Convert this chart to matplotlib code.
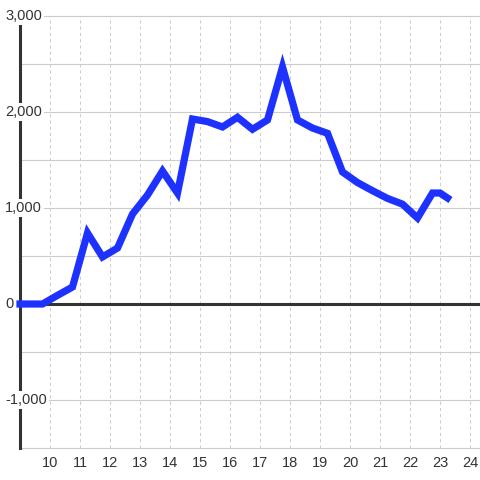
import matplotlib
matplotlib.use("Agg")
import matplotlib.pyplot as plt
import matplotlib.transforms as mtransforms

# values
x_vals = [9.0, 9.75, 10.25, 10.75, 11.25, 11.75, 12.25, 12.75, 13.25, 13.75,
          14.25, 14.75, 15.25, 15.75, 16.25, 16.75, 17.25, 17.75, 18.25, 18.75,
          19.25, 19.75, 20.25, 20.75, 21.25, 21.75, 22.25, 22.75, 23.0, 23.25]
y_vals = [0, 0, 90, 177, 740, 490, 583, 937, 1135, 1385,
          1156, 1927, 1900, 1844, 1945, 1820, 1917, 2469, 1917, 1833,
          1778, 1375, 1265, 1180, 1100, 1040, 896, 1156, 1156, 1104]
x_ticks = list(range(10, 25))
y_grid = list(range(-1500, 3001, 500))
y_labels = {-1000: "-1,000", 0: "0", 1000: "1,000", 2000: "2,000", 3000: "3,000"}

plt.rcParams['font.family'] = ['Liberation Sans', 'DejaVu Sans']

fig = plt.figure(figsize=(4.8, 4.8), dpi=100)
ax = fig.add_axes([20 / 480, 32 / 480, 460 / 480, 432 / 480])
ax.set_xlim(9, 9 + 460 / 30)
ax.set_ylim(-1500, 3000)

for side in ["top", "right", "bottom"]:
    ax.spines[side].set_visible(False)
ax.spines["left"].set_color("#333333")
ax.spines["left"].set_linewidth(2.2)

# grid
for v in y_grid:
    ax.axhline(v, color="#cccccc", lw=0.8, zorder=1, clip_on=False)
for t in x_ticks:
    ax.axvline(t, color="#cccccc", lw=0.75, ls=(0, (3, 3)), zorder=1)
ax.axhline(0, color="#333333", lw=2.2, zorder=2)

ax.plot(x_vals, y_vals, color="#1e32ff", lw=5.2, zorder=3,
        solid_capstyle="projecting", solid_joinstyle="miter", clip_on=False)

ax.set_xticks(x_ticks)
ax.set_xticklabels([str(t) for t in x_ticks])
ax.tick_params(axis="x", length=0, pad=6, labelsize=10.5, labelcolor="#333333")
ax.set_yticks([])

trans = mtransforms.blended_transform_factory(fig.transFigure, ax.transData)
for v, s in y_labels.items():
    ax.text(5 / 480, v, s, transform=trans, ha="left", va="center",
            fontsize=10.5, color="#333333", zorder=4,
            bbox=dict(boxstyle="square,pad=0.12", fc="white", ec="none"))

fig.savefig("out.png", dpi=100)
